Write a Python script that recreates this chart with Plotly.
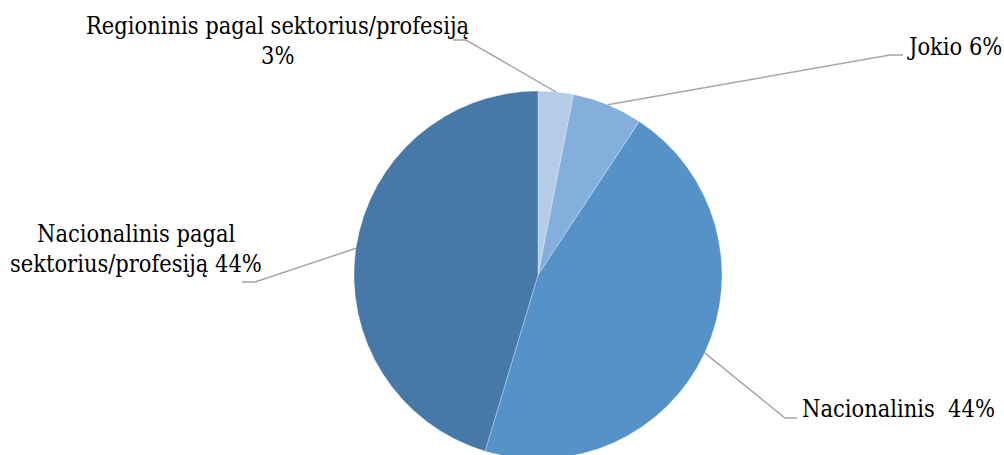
import math
import plotly.graph_objects as go

# ---- data ----
categories = ["Regioninis pagal sektorius/profesiją", "Jokio", "Nacionalinis",
              "Nacionalinis pagal sektorius/profesiją"]
values = [3, 6, 44, 44]
label_lines = [
    ["Regioninis pagal sektorius/profesiją", "3%"],
    ["Jokio 6%"],
    ["Nacionalinis  44%"],
    ["Nacionalinis pagal", "sektorius/profesiją 44%"],
]
colors = ["#b5cce8", "#84aedc", "#5592c8", "#4679a8"]

# ---- layout config (pixels) ----
W, H = 1004, 460
CX, CY, R = 538, 275, 184
FONT = "DejaVu Serif Condensed"
FS = 23.4
leader_cfg = [
    dict(elbow=(466, 40), end=(453, 40), lx=277, ly=[26, 56], xanchor="center"),
    dict(elbow=(890, 55), end=(903, 55), lx=905, ly=[47], xanchor="left"),
    dict(elbow=(785, 418), end=(797, 418), lx=800, ly=[409], xanchor="left"),
    dict(elbow=(255, 282), end=(242, 282), lx=136, ly=[234, 264], xanchor="center"),
]

def px(x):
    return x / W

def py(y):
    return 1 - y / H

fig = go.Figure(go.Pie(
    labels=categories,
    values=values,
    sort=False,
    direction="clockwise",
    rotation=0,
    marker=dict(colors=colors, line=dict(color="rgba(255,255,255,0.3)", width=1)),
    textinfo="none",
    hoverinfo="label+value",
    showlegend=False,
    domain=dict(x=[px(CX - R), px(CX + R)], y=[py(CY + R), py(CY - R)]),
))

total = sum(values)
cum = 0
shapes = []
annotations = []
for v, lines, cfg in zip(values, label_lines, leader_cfg):
    mid = (cum + v / 2) / total
    cum += v
    ang = 2 * math.pi * mid
    sx = CX + R * math.sin(ang)
    sy = CY - R * math.cos(ang)
    ex, ey = cfg["elbow"]
    tx, ty = cfg["end"]
    path = f"M {px(sx)},{py(sy)} L {px(ex)},{py(ey)} L {px(tx)},{py(ty)}"
    shapes.append(dict(type="path", xref="paper", yref="paper", path=path,
                       line=dict(color="#a6a6a6", width=1.5)))
    for text, yy in zip(lines, cfg["ly"]):
        annotations.append(dict(
            text=text, xref="paper", yref="paper",
            x=px(cfg["lx"]), y=py(yy),
            xanchor=cfg["xanchor"], yanchor="middle",
            showarrow=False,
            font=dict(family=FONT, size=FS, color="#000000"),
        ))

fig.update_layout(
    width=W, height=H,
    margin=dict(l=0, r=0, t=0, b=0),
    paper_bgcolor="white",
    plot_bgcolor="white",
    shapes=shapes,
    annotations=annotations,
)

fig.write_html(
    "out.html",
    post_script="document.documentElement.style.overflow='hidden';document.body.style.overflow='hidden';",
)
